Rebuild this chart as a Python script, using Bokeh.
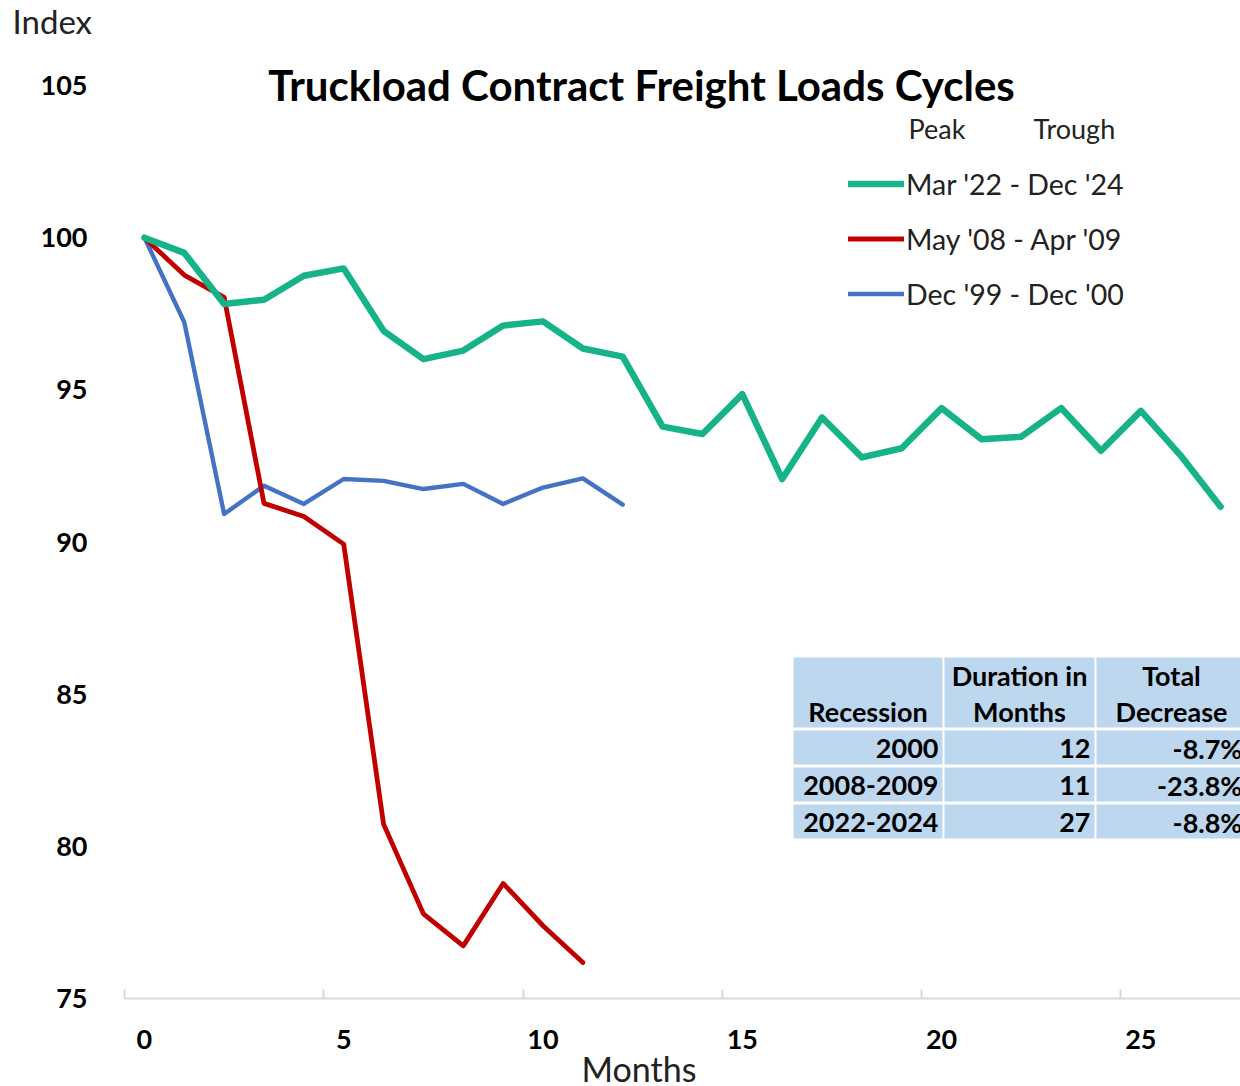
from bokeh.plotting import figure
from bokeh.models import Range1d, FixedTicker, Label, Legend, LegendItem, Title
from bokeh.core.properties import value
from bokeh.embed import file_html
from bokeh.resources import INLINE

FONT = "Lato"

# ---- data ----
green_label = "Mar '22 - Dec '24"
red_label = "May '08 - Apr '09"
blue_label = "Dec '99 - Dec '00"
green = [100, 99.5, 97.82, 97.96, 98.75, 98.99, 96.94, 96.01, 96.29, 97.11,
         97.25, 96.36, 96.09, 93.79, 93.55, 94.86, 92.07, 94.09, 92.78, 93.08,
         94.40, 93.38, 93.46, 94.40, 93.0, 94.31, 92.84, 91.16]
red = [100, 98.77, 98.04, 91.27, 90.84, 89.93, 80.73, 77.78, 76.73, 78.78, 77.39, 76.18]
blue = [100, 97.22, 90.92, 91.85, 91.25, 92.07, 92.01, 91.74, 91.91, 91.25, 91.79, 92.09, 91.23]

x_ticks = [0, 5, 10, 15, 20, 25]
y_ticks = [75, 80, 85, 90, 95, 100, 105]

header_line1 = ["", "Duration in", "Total"]
header_line2 = ["Recession", "Months", "Decrease"]
recessions = ["2000", "2008-2009", "2022-2024"]
durations = ["12", "11", "27"]
decreases = ["-8.7%", "-23.8%", "-8.8%"]

# ---- layout (page pixel geometry) ----
FL, FR, FT, FB = 124, 1240, 42, 998   # frame edges in page pixels
PX_PER_UNIT = (998 - 85) / 30.0        # y: 75 at 998, 105 at 85
y_top = 75 + (FB - FT) / PX_PER_UNIT

p = figure(frame_width=FR - FL, frame_height=FB - FT, output_backend="svg",
           toolbar_location=None,
           x_range=Range1d(-0.5, 27.5), y_range=Range1d(75, y_top),
           min_border_left=FL, min_border_right=0,
           min_border_top=FT, min_border_bottom=0)
p.outline_line_color = None
p.xgrid.visible = False
p.ygrid.visible = False
p.extra_x_ranges = {"tx": Range1d(FL, FR)}
p.extra_y_ranges = {"ty": Range1d(FB, FT)}

# "Index" heading at top-left (title panel, shifted left of the frame)
p.title.text = "Index"
p.title.align = "left"
p.title.offset = -(FL - 12)
p.title.vertical_align = "top"
p.title.text_font = FONT
p.title.text_font_style = "normal"
p.title.text_font_size = "33px"
p.title.text_color = "#222222"
p.title.standoff = 0

# axes
p.xaxis.ticker = FixedTicker(ticks=x_ticks, minor_ticks=[t - 0.5 for t in x_ticks])
p.xaxis.major_tick_line_color = None
p.xaxis.minor_tick_line_color = "#D9D9D9"
p.xaxis.minor_tick_line_width = 2
p.xaxis.minor_tick_in = 9
p.xaxis.minor_tick_out = 0
p.xaxis.axis_line_color = "#D9D9D9"
p.xaxis.axis_line_width = 2
p.xaxis.major_label_text_font = FONT
p.xaxis.major_label_text_font_style = "bold"
p.xaxis.major_label_text_font_size = "27px"
p.xaxis.major_label_text_color = "black"
p.xaxis.major_label_standoff = 25

# "Months" axis title, placed like the reference (left of frame centre)
months_title = Title(text="Months", align="left", offset=457, standoff=-8,
                     vertical_align="top",
                     text_font=FONT, text_font_style="normal", text_font_size="34px",
                     text_color="#222222")
p.add_layout(months_title, "below")

p.yaxis.ticker = FixedTicker(ticks=y_ticks, minor_ticks=[])
p.yaxis.axis_line_color = None
p.yaxis.major_tick_line_color = None
p.yaxis.minor_tick_line_color = None
p.yaxis.major_label_text_font = FONT
p.yaxis.major_label_text_font_style = "bold"
p.yaxis.major_label_text_font_size = "27px"
p.yaxis.major_label_text_color = "black"
p.yaxis.major_label_standoff = 31

# table (drawn first, under lines)
col_left = [793, 944, 1096]
col_right = [942, 1094, 1246]
row_top = [657, 730, 767, 804]
row_bottom = [727, 764, 801, 838]
ql, qr, qt, qb = [], [], [], []
for r in range(4):
    for c in range(3):
        ql.append(col_left[c]); qr.append(col_right[c])
        qt.append(row_top[r]); qb.append(row_bottom[r])
p.quad(left=ql, right=qr, top=qt, bottom=qb, fill_color="#BDD7EE", line_color=None,
       x_range_name="tx", y_range_name="ty")

tstyle = dict(x_range_name="tx", y_range_name="ty", text_font=value(FONT),
              text_font_style="bold", text_font_size="27px", text_color="black",
              text_baseline="middle")
centers = [(l + r) / 2 for l, r in zip(col_left, col_right)]
p.text(x=centers, y=[675] * 3, text=header_line1, text_align="center", **tstyle)
p.text(x=centers, y=[711] * 3, text=header_line2, text_align="center", **tstyle)
row_mid = [(t + b) / 2 + 1 for t, b in zip(row_top[1:], row_bottom[1:])]
for c, col in enumerate([recessions, durations, decreases]):
    p.text(x=[col_right[c] - 4] * 3, y=row_mid, text=col, text_align="right", **tstyle)

# lines
rb = p.line(list(range(len(blue))), blue, line_color="#4472C4", line_width=4.4,
            line_join="round", line_cap="round")
rr = p.line(list(range(len(red))), red, line_color="#C00000", line_width=4.8,
            line_join="round", line_cap="round")
rg = p.line(list(range(len(green))), green, line_color="#16B388", line_width=6.5,
            line_join="round", line_cap="round")

legend = Legend(items=[LegendItem(label=green_label, renderers=[rg]),
                       LegendItem(label=red_label, renderers=[rr]),
                       LegendItem(label=blue_label, renderers=[rb])],
                location=(848 - FL, FB - 321), padding=0, margin=0, spacing=0,
                glyph_width=56, glyph_height=55, label_height=55, label_standoff=2,
                border_line_color=None, background_fill_alpha=0,
                label_text_font=FONT, label_text_font_size="28.5px",
                label_text_color="#222222")
p.add_layout(legend)

lstyle = dict(x_range_name="tx", y_range_name="ty", text_font=FONT,
              text_baseline="middle")
p.add_layout(Label(x=641, y=84, text="Truckload Contract Freight Loads Cycles",
                   text_align="center", text_font_style="bold", text_font_size="42px",
                   text_color="black", **lstyle))
p.add_layout(Label(x=908, y=128, text="Peak", text_align="left", text_font_size="27px",
                   text_color="#222222", **lstyle))
p.add_layout(Label(x=1033, y=128, text="Trough", text_align="left", text_font_size="27px",
                   text_color="#222222", **lstyle))

open("out.html", "w").write(file_html(p, INLINE))
